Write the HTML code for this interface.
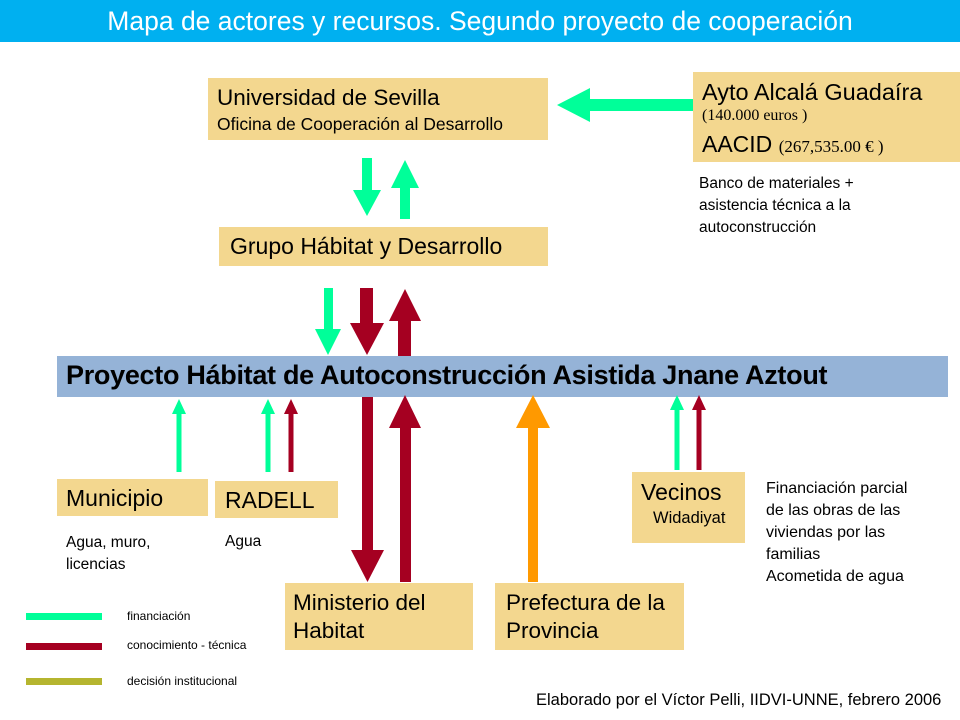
<!DOCTYPE html>
<html><head><meta charset="utf-8"><style>
body{margin:0;width:960px;height:720px;background:#fff;overflow:hidden;font-family:"Liberation Sans",sans-serif}
.b{position:absolute;background:#f3d78f;color:#000}
.t{position:absolute;font-family:"Liberation Sans",sans-serif;color:#000;white-space:nowrap}
</style></head><body>
<div style="position:absolute;left:0;top:0;width:960px;height:42px;background:#00b0f0;color:#fff;font-size:26.5px;text-align:center;line-height:42px">Mapa de actores y recursos. Segundo proyecto de cooperación</div>

<div class="b" style="left:208px;top:78px;width:340px;height:62px"></div>
<div class="t" style="left:217px;top:85px;font-size:22.5px">Universidad de Sevilla</div>
<div class="t" style="left:217px;top:114px;font-size:17.5px">Oficina de Cooperación al Desarrollo</div>

<div class="b" style="left:693px;top:72px;width:267px;height:90px"></div>
<div class="t" style="left:702px;top:79px;font-size:23.5px">Ayto Alcalá Guadaíra</div>
<div class="t" style="left:702px;top:107px;font-size:16px;font-family:'Liberation Serif',serif">(140.000 euros )</div>
<div class="t" style="left:702px;top:131px;font-size:23px">AACID <span style="font-size:17px;font-family:'Liberation Serif',serif">(267,535.00 € )</span></div>
<div class="t" style="left:699px;top:173px;font-size:15.5px;line-height:22px">Banco de materiales +<br>asistencia técnica a la<br>autoconstrucción</div>

<div class="b" style="left:219px;top:227px;width:329px;height:39px"></div>
<div class="t" style="left:230px;top:233px;font-size:23px">Grupo Hábitat y Desarrollo</div>

<div style="position:absolute;left:57px;top:356px;width:891px;height:41px;background:#95b3d7"></div>
<div class="t" style="left:66px;top:360px;font-size:27px;font-weight:bold;letter-spacing:-0.3px">Proyecto Hábitat de Autoconstrucción Asistida Jnane Aztout</div>

<div class="b" style="left:57px;top:479px;width:151px;height:37px"></div>
<div class="t" style="left:66px;top:485px;font-size:23px">Municipio</div>
<div class="t" style="left:66px;top:532px;font-size:15.5px;line-height:22px">Agua, muro,<br>licencias</div>

<div class="b" style="left:215px;top:481px;width:123px;height:37px"></div>
<div class="t" style="left:225px;top:487px;font-size:23px">RADELL</div>
<div class="t" style="left:225px;top:533px;font-size:15.5px">Agua</div>

<div class="b" style="left:632px;top:472px;width:113px;height:71px"></div>
<div class="t" style="left:641px;top:479px;font-size:23px">Vecinos</div>
<div class="t" style="left:653px;top:509px;font-size:16.5px">Widadiyat</div>
<div class="t" style="left:766px;top:478px;font-size:16px;line-height:22px">Financiación parcial<br>de las obras de las<br>viviendas por las<br>familias<br>Acometida de agua</div>

<div class="b" style="left:285px;top:583px;width:188px;height:67px"></div>
<div class="t" style="left:293px;top:589px;font-size:22.5px;line-height:28px">Ministerio del<br>Habitat</div>
<div class="b" style="left:495px;top:583px;width:189px;height:67px"></div>
<div class="t" style="left:506px;top:589px;font-size:22.5px;line-height:28px">Prefectura de la<br>Provincia</div>

<div class="t" style="left:127px;top:609px;font-size:12px">financiación</div>
<div class="t" style="left:127px;top:638px;font-size:12px">conocimiento - técnica</div>
<div class="t" style="left:127px;top:674px;font-size:12px">decisión institucional</div>
<div class="t" style="left:536px;top:691px;font-size:16.5px">Elaborado por el Víctor Pelli, IIDVI-UNNE, febrero 2006</div>

<svg width="960" height="720" style="position:absolute;left:0;top:0">
<g fill="#00ff99">
<polygon points="693,99 590,99 590,88 557,105 590,122 590,111 693,111"/>
<polygon points="362,158 372,158 372,190 381,190 367,216 353,190 362,190"/>
<polygon points="400,219 410,219 410,188 419,188 405,160 391,188 400,188"/>
<polygon points="324,288 333,288 333,329 341,329 328,355 315,329 324,329"/>
<polygon points="176.5,472 181.5,472 181.5,414 186,414 179,399 172,414 176.5,414"/>
<polygon points="265.5,472 270.5,472 270.5,414 275,414 268,399 261,414 265.5,414"/>
<polygon points="674.5,470 679.5,470 679.5,410 684,410 677,395 670,410 674.5,410"/>
</g>
<g fill="#a50021">
<polygon points="360,288 373,288 373,323 384,323 367,355 350,323 360,323"/>
<polygon points="398,356 411,356 411,321 421,321 405,289 389,321 398,321"/>
<polygon points="362,397 373,397 373,550 384,550 367.5,582 351,550 362,550"/>
<polygon points="400,582 411,582 411,428 421,428 405,395 389,428 400,428"/>
<polygon points="288.5,472 293.5,472 293.5,414 298,414 291,399 284,414 288.5,414"/>
<polygon points="696.5,470 701.5,470 701.5,410 706,410 699,395 692,410 696.5,410"/>
</g>
<polygon fill="#ff9900" points="528,582 538,582 538,428 550,428 533,395 516,428 528,428"/>
<rect x="26" y="613" width="76" height="7" fill="#00ff99"/>
<rect x="26" y="643" width="76" height="7" fill="#a50021"/>
<rect x="26" y="678" width="76" height="7" fill="#b5b52f"/>
</svg>
</body></html>
